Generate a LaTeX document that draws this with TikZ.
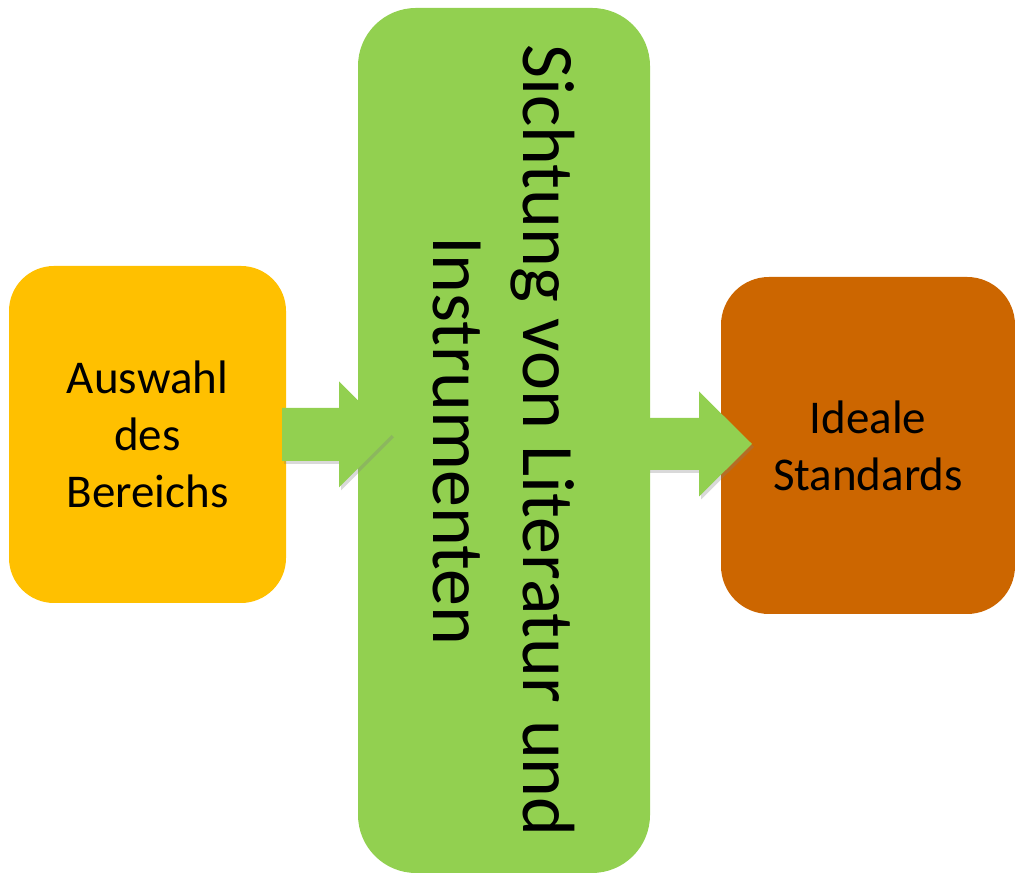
\documentclass[tikz,border=0pt]{standalone}
\usepackage{fontspec}
\setmainfont{Carlito}
\usetikzlibrary{calc,shadows}
\definecolor{boxyellow}{HTML}{FFC000}
\definecolor{boxgreen}{HTML}{92D050}
\definecolor{boxorange}{HTML}{CC6600}
\begin{document}
\begin{tikzpicture}[x=1pt,y=1pt,
  box/.style={rectangle, inner sep=0pt, outer sep=0pt, align=center, text=black},
  smalltext/.style={font=\fontsize{47}{57}\selectfont},
  bigtext/.style={font=\fontsize{74}{90}\selectfont},
  blockarrow/.style={fill=boxgreen, drop shadow={shadow xshift=2pt, shadow yshift=-3pt, opacity=0.3}}]
\useasboundingbox (0,0) rectangle (1015,874);
\node[box, smalltext, fill=boxyellow, minimum width=277pt, minimum height=337pt, rounded corners=45pt] (auswahl) at (147.5,439.5) {Auswahl\\des\\Bereichs};
\node[box, bigtext, fill=boxgreen, rotate=-90, minimum width=865pt, minimum height=292pt, rounded corners=58pt] (sichtung) at (504,433.5) {Sichtung von Literatur und\\Instrumenten};
\node[box, smalltext, fill=boxorange, minimum width=294pt, minimum height=337pt, rounded corners=48pt] (ideale) at (868,428.5) {Ideale\\Standards};
% arrow 1
\coordinate (a1s) at ($(auswahl.east)+(-4,0)$);
\coordinate (a1t) at ($(sichtung.south |- auswahl.east)+(34,0)$);
\fill[blockarrow] ($(a1s)+(0,26.5)$) -- ($(a1t)+(-53,26.5)$) -- ($(a1t)+(-53,53)$) -- (a1t)
  -- ($(a1t)+(-53,-53)$) -- ($(a1t)+(-53,-26.5)$) -- ($(a1s)+(0,-26.5)$) -- cycle;
% arrow 2
\coordinate (a2s) at ($(sichtung.north |- ideale.west)+(-2,1.5)$);
\coordinate (a2t) at ($(ideale.west)+(31,1.5)$);
\fill[blockarrow] ($(a2s)+(0,26)$) -- ($(a2t)+(-53,26)$) -- ($(a2t)+(-53,52.5)$) -- (a2t)
  -- ($(a2t)+(-53,-52.5)$) -- ($(a2t)+(-53,-26)$) -- ($(a2s)+(0,-26)$) -- cycle;
\end{tikzpicture}
\end{document}
